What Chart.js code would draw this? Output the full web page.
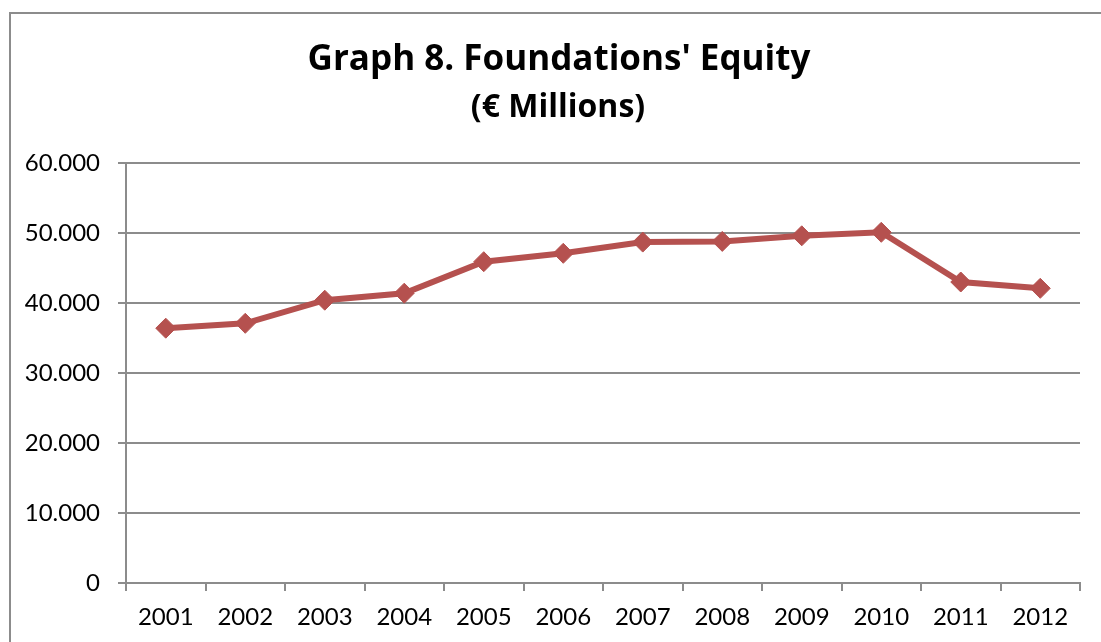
<!DOCTYPE html>
<html>
<head>
<meta charset="utf-8">
<script src="https://cdn.jsdelivr.net/npm/chart.js@4"></script>
<style>
  html, body { margin: 0; padding: 0; background: #ffffff; }
  #wrap { width: 1101px; height: 642px; }
</style>
</head>
<body>
<div id="wrap"><canvas id="equityChart" width="1101" height="642"></canvas></div>
<script>
// Foundations' equity by year, € millions
const years = ['2001', '2002', '2003', '2004', '2005', '2006', '2007', '2008', '2009', '2010', '2011', '2012'];
const equity = [36400, 37100, 40400, 41400, 45900, 47100, 48700, 48800, 49600, 50100, 43000, 42100];
const yTickValues = [0, 10000, 20000, 30000, 40000, 50000, 60000];

const titleText = "Graph 8. Foundations' Equity";
const subtitleText = '(€ Millions)';

const TICK_FONT = 'Lato, "Noto Sans", sans-serif';
const HEAD_FONT = '"Open Sans", "Noto Sans", sans-serif';
const AXIS_GREY = '#8c8c8c';
const LINE_RED = 'rgb(181, 81, 79)';

// thousands separated with a dot: 60000 -> "60.000"
function formatThousands(v) {
  return String(Math.round(v)).replace(/\B(?=(\d{3})+(?!\d))/g, '.');
}

// outer frame and the two-line heading
const framePlugin = {
  id: 'frameAndHeading',
  beforeDraw(chart) {
    const ctx = chart.ctx;
    ctx.save();
    ctx.strokeStyle = AXIS_GREY;
    ctx.lineWidth = 2;
    ctx.strokeRect(10, 13, 1200, 800);
    ctx.restore();
  },
  afterDraw(chart) {
    const ctx = chart.ctx;
    ctx.save();
    ctx.fillStyle = '#000000';
    ctx.textAlign = 'center';
    ctx.textBaseline = 'alphabetic';
    ctx.font = 'bold 35px ' + HEAD_FONT;
    ctx.fillText(titleText, 559, 70);
    ctx.font = 'bold 32px ' + HEAD_FONT;
    ctx.fillText(subtitleText, 558, 117);
    ctx.restore();
  }
};

new Chart(document.getElementById('equityChart'), {
  type: 'line',
  data: {
    labels: years,
    datasets: [{
      label: "Foundations' Equity",
      data: equity,
      borderColor: LINE_RED,
      backgroundColor: LINE_RED,
      borderWidth: 6,
      tension: 0,
      pointStyle: 'rectRot',
      pointRadius: 10,
      pointHoverRadius: 10,
      pointBorderWidth: 1,
      pointBorderColor: LINE_RED,
      pointBackgroundColor: LINE_RED
    }]
  },
  options: {
    responsive: false,
    animation: false,
    devicePixelRatio: 1,
    layout: { padding: { top: 163, left: 0, right: 21, bottom: 0 } },
    plugins: {
      legend: { display: false },
      title: { display: false },
      tooltip: { enabled: false }
    },
    scales: {
      x: {
        type: 'category',
        offset: true,
        afterFit(scale) { scale.height = 59; },
        grid: {
          offset: true,
          drawOnChartArea: false,
          drawTicks: true,
          tickLength: 8,
          color: AXIS_GREY,
          lineWidth: 2
        },
        border: { display: true, color: AXIS_GREY, width: 2 },
        ticks: {
          color: '#000000',
          font: { family: TICK_FONT, size: 24 },
          padding: 12,
          maxRotation: 0,
          autoSkip: false
        }
      },
      y: {
        min: 0,
        max: 60000,
        afterFit(scale) { scale.width = 126; },
        afterBuildTicks(scale) { scale.ticks = yTickValues.map(v => ({ value: v })); },
        grid: {
          drawTicks: true,
          tickLength: 8,
          color: AXIS_GREY,
          lineWidth: 2
        },
        border: { display: true, color: AXIS_GREY, width: 2 },
        ticks: {
          color: '#000000',
          font: { family: TICK_FONT, size: 24 },
          padding: 18,
          callback: (v) => formatThousands(v)
        }
      }
    }
  },
  plugins: [framePlugin]
});
</script>
</body>
</html>
